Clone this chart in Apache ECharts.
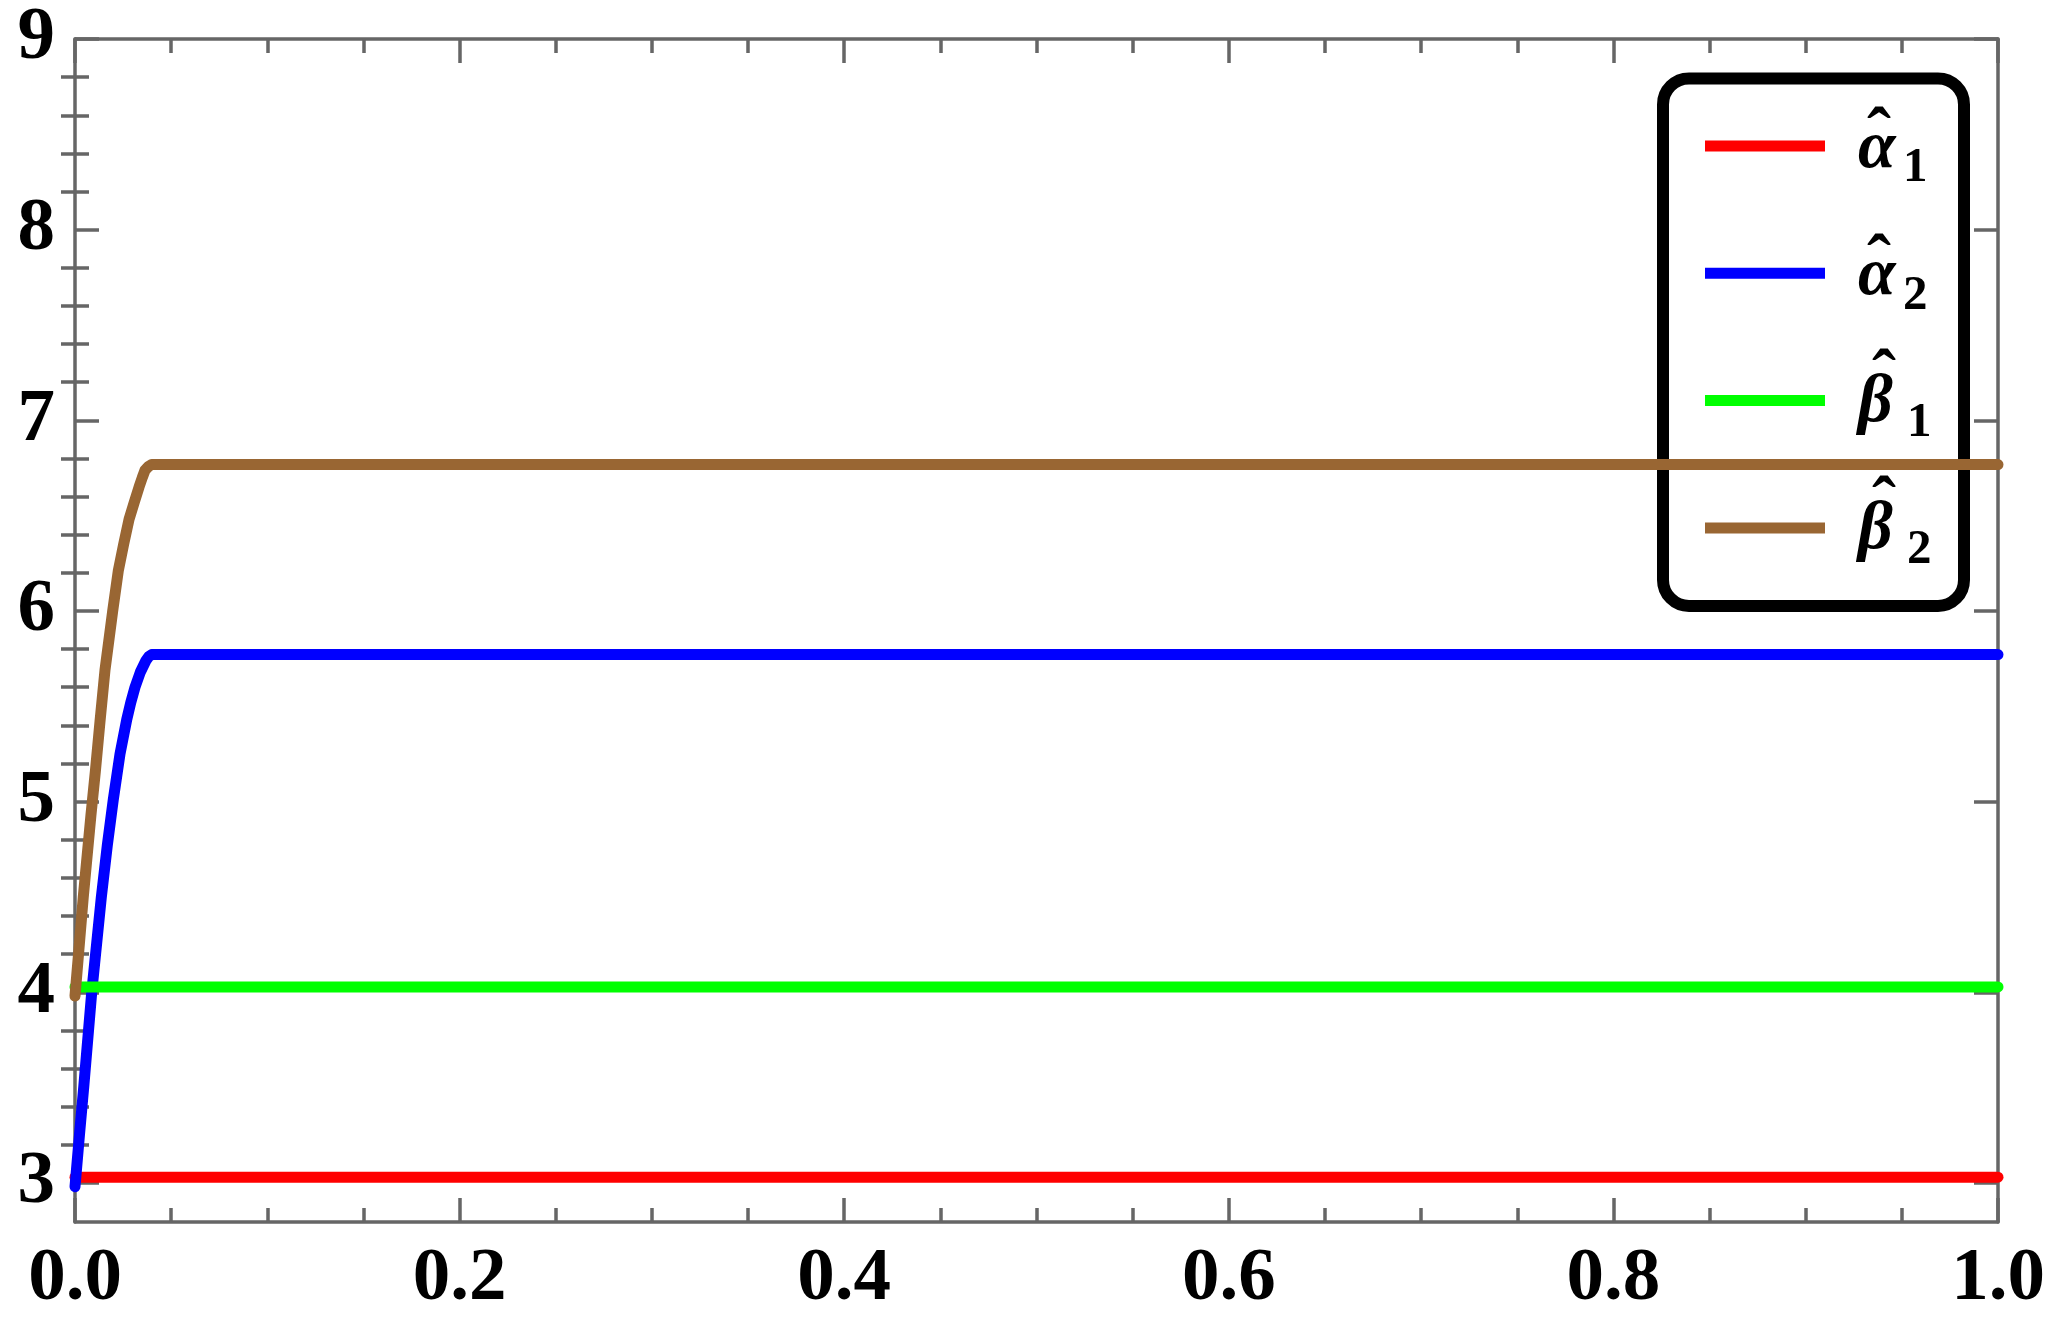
<!DOCTYPE html>
<html><head><meta charset="utf-8">
<script src="https://cdn.jsdelivr.net/npm/echarts@6/dist/echarts.min.js"></script>
<style>html,body{margin:0;padding:0;background:#fff}#c{width:2050px;height:1321px}</style>
</head><body><div id="c"></div>
<script>
// ---- data ----
const seriesNames = ['alpha1', 'alpha2', 'beta1', 'beta2'];
const legendGlyphs = ['α', 'α', 'β', 'β'];
const legendSubs = ['1', '2', '1', '2'];
const legendHat = 'ˆ';
const seriesColors = ['#FF0000', '#0000FF', '#00FF00', '#996633'];

const alpha1X = [0, 1];
const alpha1Y = [3.03, 3.03];

const alpha2X = [0, 0.0023, 0.0046, 0.0087, 0.0137, 0.0168, 0.0199, 0.0234, 0.0269, 0.0290, 0.0312, 0.0340, 0.0369, 0.0385, 0.0399, 1];
const alpha2Y = [2.98, 3.25, 3.51, 4.0, 4.5, 4.77, 5.01, 5.25, 5.43, 5.52, 5.60, 5.68, 5.74, 5.762, 5.771, 5.771];

const beta1X = [0, 1];
const beta1Y = [4.028, 4.028];

const beta2X = [0, 0.0020, 0.0043, 0.0083, 0.0106, 0.0130, 0.0156, 0.0196, 0.0225, 0.0253, 0.0281, 0.0308, 0.0333, 0.0350, 0.0364, 0.0382, 0.0399, 1];
const beta2Y = [3.98, 4.22, 4.50, 4.93, 5.16, 5.42, 5.69, 6.0, 6.21, 6.35, 6.48, 6.57, 6.65, 6.70, 6.738, 6.758, 6.768, 6.768];

const xMin = 0, xMax = 1, xInterval = 0.2;
const yMin = 2.795, yMax = 9;
const yMajorTicks = [3, 4, 5, 6, 7, 8, 9];
const yMinorTicks = [3.2, 3.4, 3.6, 3.8, 4.2, 4.4, 4.6, 4.8, 5.2, 5.4, 5.6, 5.8, 6.2, 6.4, 6.6, 6.8, 7.2, 7.4, 7.6, 7.8, 8.2, 8.4, 8.6, 8.8];

// ---- build ----
const zip = (xs, ys) => xs.map((x, i) => [x, ys[i]]);
const seriesData = [zip(alpha1X, alpha1Y), zip(alpha2X, alpha2Y), zip(beta1X, beta1Y), zip(beta2X, beta2Y)];

const frame = '#666666';
const fw = 3.5;
const serif = "'Liberation Serif', 'Times New Roman', serif";
const labelFont = { fontFamily: serif, fontWeight: 'bold', fontSize: 75, color: '#000' };

const xBase = {
  type: 'value', min: xMin, max: xMax, interval: xInterval,
  splitLine: { show: false },
  axisLine: { show: true, onZero: false, lineStyle: { color: frame, width: fw } },
  axisTick: { show: true, inside: true, length: 24, lineStyle: { color: frame, width: fw } },
  minorTick: { show: true, splitNumber: 4, length: 14, lineStyle: { color: frame, width: fw } },
  minorSplitLine: { show: false }
};
const yBase = {
  type: 'value', min: yMin, max: yMax,
  splitLine: { show: false },
  axisLine: { show: true, onZero: false, lineStyle: { color: frame, width: fw } }
};
const majorTick = { show: true, inside: true, length: 24, customValues: yMajorTicks, lineStyle: { color: frame, width: fw } };
const minorTickY = { show: true, inside: true, length: 14, customValues: yMinorTicks, lineStyle: { color: frame, width: fw } };

// legend layout
const legLeft = 1663, legTop = 78.5, legPadTop = 62, legPadLeft = 42, iconW = 120, iconH = 11, rowPitch = 127.3;
const rowCenter = i => legTop + legPadTop + iconH / 2 + i * rowPitch;
const textLeft = legLeft + legPadLeft + iconW + 33;

const labelTexts = [];
seriesNames.forEach((n, i) => {
  const R = rowCenter(i);
  const isBeta = i >= 2;
  labelTexts.push({
    type: 'text', z: 10, x: textLeft, y: R + 3,
    style: { text: legendGlyphs[i], fill: '#000', font: "italic bold 68px 'Liberation Serif', serif", textAlign: 'left', textVerticalAlign: 'middle' }
  });
  labelTexts.push({
    type: 'text', z: 10, x: textLeft + (isBeta ? 49 : 45), y: R + 22.8,
    style: { text: legendSubs[i], fill: '#000', font: "bold 49px 'Liberation Serif', serif", textAlign: 'left', textVerticalAlign: 'middle' }
  });
  labelTexts.push({
    type: 'text', z: 10, x: textLeft + (isBeta ? 26 : 21), y: R + (isBeta ? -20 : -7.5),
    style: { text: legendHat, fill: '#000', font: "bold 72px 'Liberation Serif', serif", textAlign: 'center', textVerticalAlign: 'middle' }
  });
});

const option = {
  backgroundColor: '#fff',
  animation: false,
  grid: { left: 75, right: 52, top: 39, bottom: 99, containLabel: false },
  xAxis: [
    Object.assign({}, xBase, { position: 'bottom', axisLabel: Object.assign({ show: true, margin: 20, formatter: v => v.toFixed(1) }, labelFont) }),
    Object.assign({}, xBase, { position: 'top', axisLabel: { show: false } })
  ],
  yAxis: [
    Object.assign({}, yBase, { position: 'left', axisTick: majorTick, axisLabel: Object.assign({ show: true, margin: 20, customValues: yMajorTicks, formatter: v => String(Math.round(v)) }, labelFont) }),
    Object.assign({}, yBase, { position: 'left', axisLine: { show: false }, axisTick: minorTickY, axisLabel: { show: false } }),
    Object.assign({}, yBase, { position: 'right', axisTick: majorTick, axisLabel: { show: false } }),
    Object.assign({}, yBase, { position: 'right', axisLine: { show: false }, axisTick: minorTickY, axisLabel: { show: false } })
  ],
  legend: {
    orient: 'vertical', left: legLeft, top: legTop, z: 1,
    padding: [legPadTop, 139, 72.5, legPadLeft],
    itemWidth: iconW, itemHeight: iconH, itemGap: rowPitch - iconH,
    icon: 'rect', selectedMode: false,
    backgroundColor: 'transparent',
    borderColor: '#000', borderWidth: 12, borderRadius: 26,
    data: seriesNames,
    formatter: () => '',
    textStyle: { fontSize: 1 }
  },
  graphic: labelTexts,
  series: seriesNames.map((n, i) => ({
    name: n, type: 'line', xAxisIndex: 0, yAxisIndex: 0, z: 2,
    data: seriesData[i], showSymbol: false, symbol: 'none',
    color: seriesColors[i],
    lineStyle: { color: seriesColors[i], width: 11, cap: 'round', join: 'round' }
  }))
};
const chart = echarts.init(document.getElementById('c'), null, { renderer: 'canvas' });
chart.setOption(option);
</script></body></html>
